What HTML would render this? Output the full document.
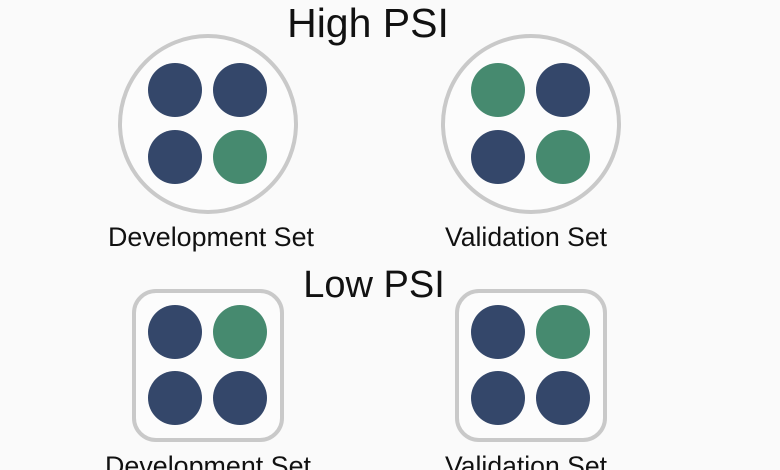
<!DOCTYPE html>
<html><head><style>
html,body{margin:0;padding:0;background:#fafafa;}
svg{display:block}
text{font-family:"Liberation Sans",sans-serif;fill:#111;}
</style></head><body>
<svg width="780" height="470" viewBox="0 0 780 470">
<rect width="780" height="470" fill="#fafafa"/>
<text x="368" y="37" font-size="41" text-anchor="middle">High PSI</text>
<circle cx="208" cy="124" r="88" fill="#fcfcfc" stroke="#c9c9c9" stroke-width="4"/>
<circle cx="531" cy="124" r="88" fill="#fcfcfc" stroke="#c9c9c9" stroke-width="4"/>
<g fill="#34476a">
<circle cx="175" cy="90" r="27"/><circle cx="240" cy="90" r="27"/><circle cx="175" cy="157" r="27"/>
<circle cx="563" cy="90" r="27"/><circle cx="498" cy="157" r="27"/>
</g>
<g fill="#468a6f">
<circle cx="240" cy="157" r="27"/><circle cx="498" cy="90" r="27"/><circle cx="563" cy="157" r="27"/>
</g>
<text x="211" y="246" font-size="26.8" text-anchor="middle" textLength="206" lengthAdjust="spacingAndGlyphs">Development Set</text>
<text x="526" y="246" font-size="26.8" text-anchor="middle" textLength="162" lengthAdjust="spacingAndGlyphs">Validation Set</text>
<text x="374" y="297" font-size="38" text-anchor="middle">Low PSI</text>
<rect x="134" y="291" width="148" height="149" rx="22" fill="#fcfcfc" stroke="#c9c9c9" stroke-width="4"/>
<rect x="457" y="291" width="148" height="149" rx="22" fill="#fcfcfc" stroke="#c9c9c9" stroke-width="4"/>
<g fill="#34476a">
<circle cx="175" cy="332" r="27"/><circle cx="175" cy="398" r="27"/><circle cx="240" cy="398" r="27"/>
<circle cx="498" cy="332" r="27"/><circle cx="498" cy="398" r="27"/><circle cx="563" cy="398" r="27"/>
</g>
<g fill="#468a6f">
<circle cx="240" cy="332" r="27"/><circle cx="563" cy="332" r="27"/>
</g>
<text x="208" y="475" font-size="26.8" text-anchor="middle" textLength="206" lengthAdjust="spacingAndGlyphs">Development Set</text>
<text x="526" y="475" font-size="26.8" text-anchor="middle" textLength="162" lengthAdjust="spacingAndGlyphs">Validation Set</text>
</svg>
</body></html>
